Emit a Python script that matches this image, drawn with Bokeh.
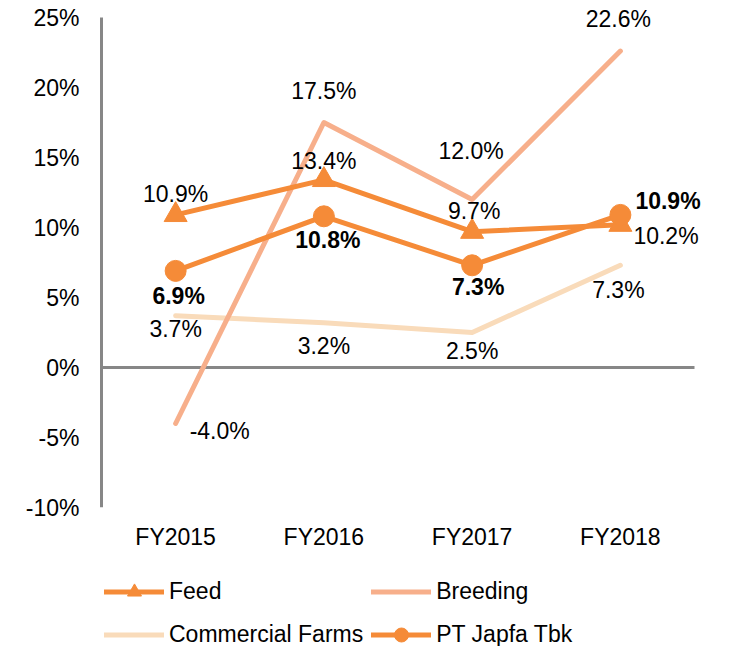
from bokeh.plotting import figure
from bokeh.layouts import column
from bokeh.models import (Range1d, FixedTicker, Legend, LegendItem, ColumnDataSource)
from bokeh.core.properties import value
from bokeh.embed import file_html
from bokeh.resources import INLINE

# ---- data ----
years = ["FY2015", "FY2016", "FY2017", "FY2018"]
feed = [10.9, 13.4, 9.7, 10.2]
breeding = [-4.0, 17.5, 12.0, 22.6]
commercial = [3.7, 3.2, 2.5, 7.3]
japfa = [6.9, 10.8, 7.3, 10.9]
y_ticks = [-10, -5, 0, 5, 10, 15, 20, 25]
series_names = ["Feed", "Breeding", "Commercial Farms", "PT Japfa Tbk"]

xs = list(range(len(years)))

# ---- styles ----
FONT = "Liberation Sans"
FS = "23px"
C_FEED = "#F58B38"
C_BREED = "#F7AF8B"
C_COMM = "#F9DBBA"
C_JAPFA = "#F58B38"
GRAY = "#878787"
LW = 5

x_lo = -0.5 - 3 / 148.25
x_hi = len(years) - 0.5 + 16 / 148.25
p = figure(x_range=Range1d(x_lo, x_hi),
           y_range=Range1d(y_ticks[0], y_ticks[-1] + 1), output_backend="svg",
           toolbar_location=None,
           min_border_left=98, min_border_right=11, min_border_top=3,
           min_border_bottom=60)
p.frame_width = 612
p.frame_height = 504
p.outline_line_color = None
p.grid.visible = False
p.background_fill_color = "white"

# axes
p.yaxis.ticker = FixedTicker(ticks=y_ticks)
p.yaxis.major_label_overrides = {t: f"{t}%" for t in y_ticks}
p.yaxis.axis_line_color = None
p.yaxis.major_tick_line_color = None
p.yaxis.minor_tick_line_color = None
p.yaxis.major_tick_out = 0
p.yaxis.major_tick_in = 0
p.yaxis.major_label_standoff = 19
p.yaxis.major_label_text_font = FONT
p.yaxis.major_label_text_font_size = FS
p.yaxis.major_label_text_color = "black"

p.xaxis.ticker = FixedTicker(ticks=xs)
p.xaxis.major_label_overrides = {i: y for i, y in zip(xs, years)}
p.xaxis.axis_line_color = None
p.xaxis.major_tick_line_color = None
p.xaxis.minor_tick_line_color = None
p.xaxis.major_tick_out = 0
p.xaxis.major_tick_in = 0
p.xaxis.major_label_standoff = 16
p.xaxis.major_label_text_font = FONT
p.xaxis.major_label_text_font_size = FS
p.xaxis.major_label_text_color = "black"

# axis line and zero line
p.segment(x0=[-0.5, -0.5], y0=[y_ticks[0], 0], x1=[-0.5, len(years) - 0.5],
          y1=[y_ticks[-1], 0], line_color=GRAY, line_width=3)

p.line(xs, commercial, line_color=C_COMM, line_width=LW, line_cap="round", line_join="round")
p.line(xs, breeding, line_color=C_BREED, line_width=LW, line_cap="round", line_join="round")
p.line(xs, feed, line_color=C_FEED, line_width=LW, line_cap="round", line_join="round")
p.scatter(xs, feed, marker="triangle", size=23, fill_color=C_FEED, line_color=C_FEED)
p.line(xs, japfa, line_color=C_JAPFA, line_width=LW, line_cap="round", line_join="round")
p.scatter(xs, japfa, marker="circle", size=21, fill_color=C_JAPFA, line_color=C_JAPFA)

def labels(vals, dx, dy, align, bold=False):
    src = ColumnDataSource(dict(x=xs, y=vals, t=[f"{v:.1f}%" for v in vals],
                                dx=dx, dy=dy, al=align))
    p.text(x="x", y="y", text="t", x_offset="dx", y_offset="dy", text_align="al",
           source=src, text_baseline="middle", text_font=value(FONT), text_font_size=FS,
           text_color="black", text_font_style="bold" if bold else "normal")

labels(feed, [0, 0, 2, 13], [-21, -19, -21, 11], ["center", "center", "center", "left"])
labels(japfa, [3, 4, 6, 15], [25, 24, 22, -14], ["center", "center", "center", "left"], bold=True)
labels(breeding, [14, 0, -1, -2], [7, -32, -49, -32], ["left", "center", "center", "center"])
labels(commercial, [0, 0, 0, -2], [13, 23, 18, 25], ["center", "center", "center", "center"])

# ---- legend strip below the chart ----
lg = figure(width=721, height=79, x_axis_location=None, y_axis_location=None,
            x_range=Range1d(0, 1), y_range=Range1d(0, 1),
            min_border=0, toolbar_location=None, output_backend="svg")
lg.outline_line_color = None
lg.grid.visible = False
nan = [float("nan")]
l_feed = lg.line(x=nan, y=nan, line_color=C_FEED, line_width=LW, line_cap="round")
m_feed = lg.scatter(x=nan, y=nan, marker="triangle", size=23, fill_color=C_FEED, line_color=C_FEED)
l_breed = lg.line(x=nan, y=nan, line_color=C_BREED, line_width=LW, line_cap="round")
l_comm = lg.line(x=nan, y=nan, line_color=C_COMM, line_width=LW, line_cap="round")
l_jap = lg.line(x=nan, y=nan, line_color=C_JAPFA, line_width=LW, line_cap="round")
m_jap = lg.scatter(x=nan, y=nan, marker="circle", size=21, fill_color=C_JAPFA, line_color=C_JAPFA)

legend = Legend(items=[
    LegendItem(label=series_names[0], renderers=[l_feed, m_feed]),
    LegendItem(label=series_names[2], renderers=[l_comm]),
    LegendItem(label=series_names[1], renderers=[l_breed]),
    LegendItem(label=series_names[3], renderers=[l_jap, m_jap]),
], ncols=2, location=(6, -6), orientation="vertical")
legend.label_text_font = FONT
legend.label_text_font_size = FS
legend.label_text_color = "black"
legend.glyph_width = 60
legend.glyph_height = 35
legend.label_standoff = 5
legend.spacing = 8
legend.padding = 2
legend.margin = 0
legend.border_line_color = None
legend.background_fill_alpha = 0
lg.add_layout(legend, "center")

open("out.html", "w").write(file_html(column(p, lg, spacing=0), INLINE))
